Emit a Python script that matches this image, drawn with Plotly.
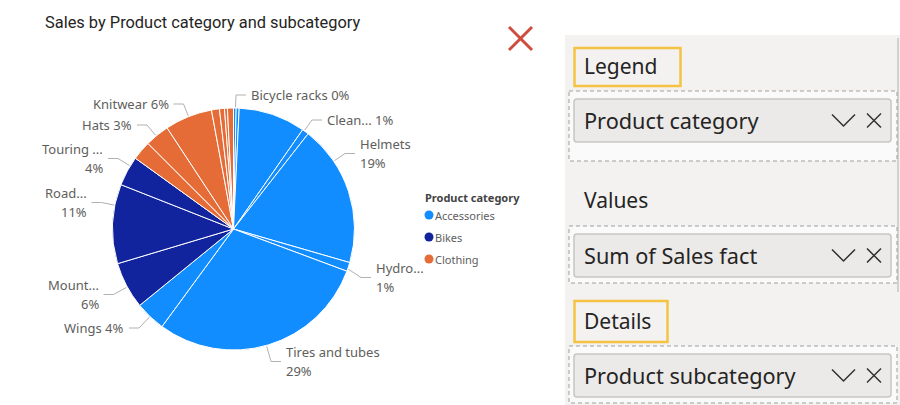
import math
import plotly.graph_objects as go

# ---------------- data ----------------
categories = ["Accessories", "Bikes", "Clothing"]
category_colors = ["#118DFF", "#12239E", "#E66C37"]

subcategories = [
    "Bicycle racks", "Bike stands", "Bottles and cages", "Cleaners", "Helmets",
    "Hydration packs", "Tires and tubes", "Wings",
    "Mountain bikes", "Road bikes", "Touring bikes",
    "Gloves", "Hats", "Knitwear", "Shorts", "Socks", "Tights", "Vests",
]
subcategory_category = (["Accessories"] * 8) + (["Bikes"] * 3) + (["Clothing"] * 7)
sales = [0.35, 0.40, 8.94, 0.89, 18.9, 1.2, 29.4, 4.06,
         6.25, 10.6, 3.97,
         2.56, 3.25, 6.33, 1.06, 0.67, 0.39, 0.80]

# truncated label texts shown by the visual
shown_names = {
    "Bicycle racks": "Bicycle racks", "Cleaners": "Clean...", "Helmets": "Helmets",
    "Hydration packs": "Hydro...", "Tires and tubes": "Tires and tubes", "Wings": "Wings",
    "Mountain bikes": "Mount...", "Road bikes": "Road...", "Touring bikes": "Touring ...",
    "Hats": "Hats", "Knitwear": "Knitwear",
}
two_line = {"Helmets", "Hydration packs", "Tires and tubes", "Mountain bikes",
            "Road bikes", "Touring bikes"}

title_text = "Sales by Product category and subcategory"
legend_title = "Product category"
field_sections = [("Legend", "Product category", True),
                  ("Values", "Sum of Sales fact", False),
                  ("Details", "Product subcategory", True)]

# ---------------- layout constants (pixels) ----------------
W, H = 900, 405
CX, CY, R = 233.5, 229.0, 121.0
LABEL_FONT = "Segoe UI, Noto Sans, sans-serif"
LABEL_COLOR = "#605E5C"
LEADER_COLOR = "#B3B0AD"

# label placement: side, text edge x, vertical centre y
label_layout = {
    "Bicycle racks": ("right", 250, 95),
    "Cleaners": ("right", 326, 120),
    "Helmets": ("right", 359, 153.5),
    "Hydration packs": ("right", 375, 277.5),
    "Tires and tubes": ("right", 285, 361.5),
    "Wings": ("left", 125, 328),
    "Mountain bikes": ("left", 99.5, 294.5),
    "Road bikes": ("left", 87.5, 202.5),
    "Touring bikes": ("left", 104, 158.5),
    "Hats": ("left", 133, 125),
    "Knitwear": ("left", 169.5, 104),
}

color_of = dict(zip(categories, category_colors))
slice_colors = [color_of[c] for c in subcategory_category]
total = sum(sales)

fig = go.Figure()
fig.add_trace(go.Pie(
    labels=subcategories, values=sales, sort=False, direction="clockwise", rotation=0,
    marker=dict(colors=slice_colors, line=dict(color="white", width=1)),
    textinfo="none", showlegend=False, hole=0,
    customdata=subcategory_category,
    hovertemplate="%{customdata}<br>%{label}: %{value}<extra></extra>",
    domain=dict(x=[(CX - R) / W, (CX + R) / W], y=[1 - (CY + R) / H, 1 - (CY - R) / H]),
))
# invisible trace so the pixel-space axes exist
fig.add_trace(go.Scatter(x=[None], y=[None], showlegend=False, hoverinfo="skip"))

shapes = []
annotations = []

def px_ann(x, y, text, size, color, xanchor="left", bold=False, family=LABEL_FONT):
    annotations.append(dict(
        x=x, y=y, xref="x", yref="y", text=("<b>%s</b>" % text) if bold else text,
        showarrow=False, xanchor=xanchor, yanchor="middle", borderpad=0,
        font=dict(size=size, color=color, family=family)))

# slice angles (clockwise from 12 o'clock)
cum = 0.0
for name, v in zip(subcategories, sales):
    a0 = cum / total * 360.0
    cum += v
    a1 = cum / total * 360.0
    if name not in label_layout:
        continue
    side, tx, ty = label_layout[name]
    pct = "%d%%" % round(v / total * 100)
    gap, seg = 4, 10
    if side == "right":
        end_x = tx - gap
        elbow_x = end_x - seg
    else:
        end_x = tx + gap
        elbow_x = end_x + seg
    elbow = (elbow_x, ty)
    ang = math.degrees(math.atan2(elbow[0] - CX, -(elbow[1] - CY))) % 360
    lo, hi = a0 + 0.25 * (a1 - a0), a1 - 0.25 * (a1 - a0)
    ang = min(max(ang, lo), hi)
    t = math.radians(ang)
    sx, sy = CX + (R + 1) * math.sin(t), CY - (R + 1) * math.cos(t)
    shapes.append(dict(type="path", xref="x", yref="y",
                       path="M %.2f %.2f L %.2f %.2f L %.2f %.2f" % (sx, sy, elbow[0], elbow[1], end_x, ty),
                       line=dict(color=LEADER_COLOR, width=1)))
    anchor = "left" if side == "right" else "right"
    if name in two_line:
        px_ann(tx, ty - 9.5, shown_names[name], 13, LABEL_COLOR, anchor)
        px_ann(tx, ty + 9.5, pct, 13, LABEL_COLOR, anchor)
    else:
        px_ann(tx, ty, shown_names[name] + " " + pct, 13, LABEL_COLOR, anchor)

# title
px_ann(44, 22, title_text, 16.4, "#252423", family="Segoe UI, Roboto, sans-serif")

# legend
px_ann(424, 197, legend_title, 11, "#444444", bold=True)
for i, (c, col) in enumerate(zip(categories, category_colors)):
    yy = 215 + 22 * i
    shapes.append(dict(type="circle", xref="x", yref="y", x0=424.5, x1=433.5, y0=yy - 4.5, y1=yy + 4.5,
                       fillcolor=col, line=dict(width=0)))
    px_ann(434, yy, c, 11, LABEL_COLOR)

# red cross
shapes.append(dict(type="line", xref="x", yref="y", x0=509, y0=27, x1=532, y1=50,
                   line=dict(color="#CF4B3C", width=3)))
shapes.append(dict(type="line", xref="x", yref="y", x0=532, y0=27, x1=509, y1=50,
                   line=dict(color="#CF4B3C", width=3)))

# field pane
shapes.append(dict(type="rect", xref="x", yref="y", x0=565, x1=900, y0=35, y1=405,
                   fillcolor="#F3F2F1", line=dict(width=0), layer="below"))
shapes.append(dict(type="line", xref="x", yref="y", x0=898, x1=898, y0=38, y1=292,
                   line=dict(color="#C8C6C4", width=1.5)))

def rounded(x0, y0, x1, y1, r):
    return ("M %f %f L %f %f Q %f %f %f %f L %f %f Q %f %f %f %f L %f %f Q %f %f %f %f "
            "L %f %f Q %f %f %f %f Z") % (
        x0 + r, y0, x1 - r, y0, x1, y0, x1, y0 + r, x1, y1 - r, x1, y1, x1 - r, y1,
        x0 + r, y1, x0, y1, x0, y1 - r, x0, y0 + r, x0, y0, x0 + r, y0)

section_tops = [48, 182, 301]
well_boxes = [(91, 161), (226, 283), (346, 403)]
for (head, field, highlighted), top, (wy0, wy1) in zip(field_sections, section_tops, well_boxes):
    hy = top + 17.5
    if highlighted:
        box_w = 106 if head == "Legend" else 93
        shapes.append(dict(type="rect", xref="x", yref="y", x0=574.5, x1=574.5 + box_w,
                           y0=top, y1=top + 38 if head == "Legend" else top + 41,
                           line=dict(color="#F5C342", width=2.5), fillcolor="rgba(0,0,0,0)"))
    px_ann(583, hy if head != "Details" else top + 20, head, 21, "#252423")
    shapes.append(dict(type="rect", xref="x", yref="y", x0=569, x1=897, y0=wy0, y1=wy1,
                       fillcolor="#FAFAFA", line=dict(color="#A19F9D", width=1, dash="4px,3px")))
    py0 = wy0 + 8
    py1 = py0 + 43
    shapes.append(dict(type="path", xref="x", yref="y", path=rounded(574, py0, 891, py1, 3),
                       fillcolor="#EBEAE9", line=dict(color="#C8C6C4", width=1.5)))
    my = (py0 + py1) / 2
    px_ann(583, my, field, 21.7, "#252423")
    shapes.append(dict(type="path", xref="x", yref="y",
                       path="M 832 %f L 843.5 %f L 855 %f" % (my - 6, my + 5.5, my - 6),
                       line=dict(color="#323130", width=1.5)))
    shapes.append(dict(type="line", xref="x", yref="y", x0=867, x1=881, y0=my - 7, y1=my + 7,
                       line=dict(color="#323130", width=1.5)))
    shapes.append(dict(type="line", xref="x", yref="y", x0=881, x1=867, y0=my - 7, y1=my + 7,
                       line=dict(color="#323130", width=1.5)))

fig.update_layout(
    width=W, height=H, margin=dict(l=0, r=0, t=0, b=0),
    paper_bgcolor="white", plot_bgcolor="rgba(0,0,0,0)",
    xaxis=dict(range=[0, W], visible=False, fixedrange=True, domain=[0, 1]),
    yaxis=dict(range=[H, 0], visible=False, fixedrange=True, domain=[0, 1]),
    shapes=shapes, annotations=annotations, showlegend=False,
)
fig.write_html("out.html")
